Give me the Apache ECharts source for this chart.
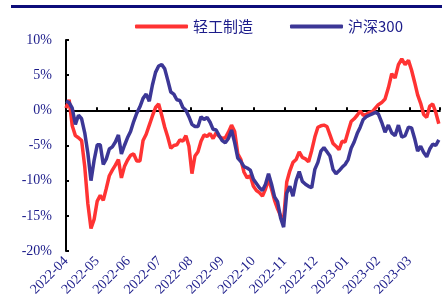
<!DOCTYPE html>
<html><head><meta charset="utf-8">
<script src="https://cdn.jsdelivr.net/npm/echarts@6/dist/echarts.min.js"></script>
<style>html,body{margin:0;padding:0;background:#fff}#c{width:442px;height:307px}</style>
</head><body><div id="c"></div>
<script>
const dates = [
'2022-04-01','2022-04-04','2022-04-07','2022-04-10','2022-04-13','2022-04-16','2022-04-19','2022-04-22','2022-04-25','2022-04-28',
'2022-05-01','2022-05-04','2022-05-07','2022-05-10','2022-05-13','2022-05-16','2022-05-19','2022-05-22','2022-05-25','2022-05-28',
'2022-05-31','2022-06-03','2022-06-06','2022-06-09','2022-06-12','2022-06-15','2022-06-18','2022-06-21','2022-06-24','2022-06-27',
'2022-06-30','2022-07-03','2022-07-06','2022-07-09','2022-07-12','2022-07-15','2022-07-18','2022-07-21','2022-07-24','2022-07-27',
'2022-07-30','2022-08-02','2022-08-05','2022-08-08','2022-08-11','2022-08-14','2022-08-17','2022-08-20','2022-08-23','2022-08-26',
'2022-08-29','2022-09-01','2022-09-04','2022-09-07','2022-09-10','2022-09-13','2022-09-16','2022-09-19','2022-09-22','2022-09-25',
'2022-09-28','2022-10-01','2022-10-04','2022-10-07','2022-10-10','2022-10-13','2022-10-16','2022-10-19','2022-10-22','2022-10-25',
'2022-10-28','2022-10-31','2022-11-03','2022-11-06','2022-11-09','2022-11-12','2022-11-15','2022-11-18','2022-11-21','2022-11-24',
'2022-11-27','2022-11-30','2022-12-03','2022-12-06','2022-12-09','2022-12-12','2022-12-15','2022-12-18','2022-12-21','2022-12-24',
'2022-12-27','2022-12-30','2023-01-02','2023-01-05','2023-01-08','2023-01-11','2023-01-14','2023-01-17','2023-01-20','2023-01-23',
'2023-01-26','2023-01-29','2023-02-01','2023-02-04','2023-02-07','2023-02-10','2023-02-13','2023-02-16','2023-02-19','2023-02-22',
'2023-02-25','2023-02-28','2023-03-03','2023-03-06','2023-03-09','2023-03-12','2023-03-15','2023-03-18','2023-03-21','2023-03-24',
'2023-03-27','2023-03-30'
];
const lightIndustry = [
0.3,1.5,-2.2,-3.6,-3.9,-4.3,-8.0,-13.3,-16.8,-15.5,
-12.9,-12.1,-12.8,-11.1,-9.3,-8.5,-7.8,-7.0,-9.6,-8.0,
-7.1,-6.4,-6.2,-7.2,-7.2,-4.3,-3.4,-2.1,-0.8,0.4,
0.9,-0.7,-2.4,-3.8,-5.4,-5.0,-4.9,-4.2,-4.4,-3.6,
-5.1,-9.0,-6.5,-5.9,-4.4,-3.5,-3.7,-3.3,-4.0,-3.2,
-3.7,-4.0,-3.9,-3.1,-2.1,-3.0,-6.2,-7.0,-8.8,-9.6,
-9.3,-10.8,-11.4,-11.7,-12.2,-11.2,-9.8,-11.2,-12.8,-14.0,
-15.0,-15.5,-10.2,-8.6,-7.4,-7.0,-5.9,-6.7,-6.9,-7.3,
-5.7,-3.8,-2.4,-2.2,-2.1,-2.3,-3.5,-4.7,-5.1,-5.6,
-4.4,-4.5,-3.0,-1.6,-1.2,-0.7,-0.1,-0.7,-0.6,-0.3,
-0.2,0.3,0.8,1.1,1.6,3.2,5.2,4.6,6.5,7.3,
6.5,7.1,5.7,4.0,2.2,1.0,-0.6,-1.0,0.6,0.9,
-0.3,-1.9
];
const hs300 = [
1.3,1.1,0.3,-2.0,-0.7,-1.2,-3.2,-6.1,-10.0,-7.1,
-4.9,-4.9,-7.7,-6.9,-5.5,-5.2,-4.5,-3.5,-6.2,-5.0,
-3.9,-3.0,-1.6,-0.4,0.5,1.7,2.3,1.3,3.6,5.4,
6.3,6.5,5.9,4.3,2.6,2.3,1.5,1.4,0.4,0.0,
-0.9,-2.0,-2.3,-2.3,-0.9,-1.3,-1.0,-1.7,-2.7,-2.8,
-3.6,-4.3,-4.6,-4.0,-2.8,-4.6,-6.8,-7.3,-8.0,-8.2,
-8.5,-9.8,-10.4,-11.0,-11.4,-10.5,-9.0,-10.5,-12.3,-13.0,
-15.3,-16.6,-11.8,-10.8,-12.2,-10.0,-8.7,-10.1,-10.5,-10.8,
-11.0,-8.4,-7.4,-5.8,-5.3,-5.9,-6.5,-8.4,-9.0,-8.6,
-8.1,-7.7,-7.0,-5.4,-4.5,-3.3,-2.4,-1.3,-0.9,-0.7,
-0.5,-0.3,-0.5,-1.7,-3.1,-2.1,-3.2,-3.6,-2.1,-3.8,
-3.6,-2.4,-2.5,-4.0,-5.8,-5.1,-6.0,-6.6,-5.5,-4.8,
-5.0,-4.2
];
const tickLabels = ['2022-04','2022-05','2022-06','2022-07','2022-08','2022-09','2022-10','2022-11','2022-12','2023-01','2023-02','2023-03'];
const seriesNames = ['轻工制造','沪深300'];

function monthPos(s){
  const p = s.split('-').map(Number);
  const dim = new Date(p[0], p[1], 0).getDate();
  return (p[0]-2022)*12 + (p[1]-4) + (p[2]-1)/dim;
}
function toPts(vals){ return dates.map((d,i)=>[monthPos(d), vals[i]]); }

const navy = '#1c1c8a';
const serif = "'Liberation Serif', 'DejaVu Serif', serif";
const chart = echarts.init(document.getElementById('c'), null, {renderer:'canvas'});
const xBase = {type:'value', min:0, max:11.97, interval:1};
chart.setOption({
  animation:false,
  graphic:[{type:'rect', shape:{x:11, y:5, width:431, height:3}, style:{fill:'#0d0d7a'}}],
  legend:{
    left:130, top:14, itemWidth:53, itemHeight:4, itemGap:37, icon:'roundRect',
    textStyle:{fontFamily:"'Noto Sans CJK SC'", fontSize:15, color:navy},
    data:seriesNames
  },
  grid:{left:66, right:1, top:40, bottom:56, containLabel:false},
  xAxis:[
    Object.assign({}, xBase, {position:'bottom',
      axisLine:{show:false, onZero:false}, axisTick:{show:false}, splitLine:{show:false},
      axisLabel:{rotate:45, margin:8, fontFamily:serif, fontSize:14, color:navy,
        formatter:function(v){const i=Math.round(v); return Math.abs(v-i)<1e-6 && tickLabels[i] ? tickLabels[i] : '';}}
    }),
    Object.assign({}, xBase, {position:'top',
      axisLine:{show:true, onZero:true, lineStyle:{color:'#000', width:2}},
      axisTick:{show:true, inside:false, length:3, lineStyle:{color:'#000', width:2}},
      axisLabel:{show:false}, splitLine:{show:false}
    })
  ],
  yAxis:{
    type:'value', min:-20, max:10, interval:5,
    axisLine:{show:true, onZero:false, lineStyle:{color:'#000', width:2}},
    axisTick:{show:true, inside:true, length:3, lineStyle:{color:'#000', width:2}},
    splitLine:{show:false},
    axisLabel:{margin:14, fontFamily:serif, fontSize:14, color:navy, formatter:'{value}%'}
  },
  series:[
    {name:seriesNames[0], type:'line', xAxisIndex:0, data:toPts(lightIndustry), showSymbol:false, symbol:'none',
     lineStyle:{color:'#ff3333', width:3.5}, itemStyle:{color:'#ff3333'}},
    {name:seriesNames[1], type:'line', xAxisIndex:0, data:toPts(hs300), showSymbol:false, symbol:'none',
     lineStyle:{color:'#3c3796', width:3.5}, itemStyle:{color:'#3c3796'}}
  ]
});
</script></body></html>
